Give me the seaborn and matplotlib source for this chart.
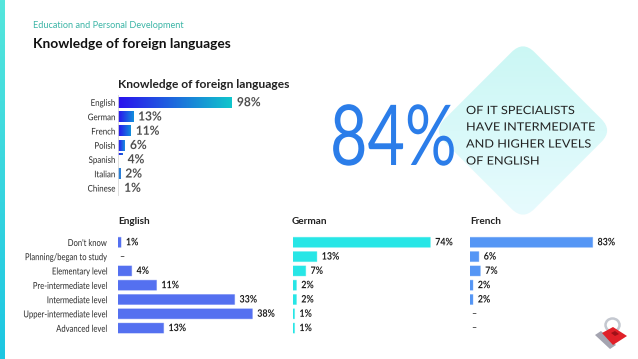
import numpy as np
import pandas as pd
import matplotlib
matplotlib.use("Agg")
import matplotlib.pyplot as plt
import seaborn as sns
from matplotlib.patches import FancyBboxPatch, Polygon, Ellipse
from matplotlib.patheffects import AbstractPathEffect
from matplotlib.transforms import Affine2D
from matplotlib.colors import LinearSegmentedColormap

languages = ["English", "German", "French", "Polish", "Spanish", "Italian", "Chinese"]
language_values = [98, 13, 11, 6, 4, 2, 1]
levels = ["Don't know", "Planning/began to study", "Elementary level", "Pre-intermediate level",
          "Intermediate level", "Upper-intermediate level", "Advanced level"]
english_values = [1, np.nan, 4, 11, 33, 38, 13]
german_values = [74, 13, 7, 2, 2, 1, 1]
french_values = [83, 6, 7, 2, 2, np.nan, np.nan]

W, H = 638, 359
sns.set_theme(style="white")
LATO = ["Lato", "DejaVu Sans"]
DARK = "#2a2a2a"
fig = plt.figure(figsize=(W/100, H/100), dpi=100, facecolor="white")


class Tall(AbstractPathEffect):
    """Stretches a text's glyphs vertically, to imitate a condensed typeface."""
    def __init__(self, sy, baseline=False):
        super().__init__()
        self.sy, self.baseline = sy, baseline

    def draw_path(self, renderer, gc, tpath, affine, rgbFace=None):
        e = tpath.get_extents()
        y0 = 0 if self.baseline else (e.y0 + e.y1) / 2
        t = Affine2D().translate(0, -y0).scale(1, self.sy).translate(0, y0)
        renderer.draw_path(gc, tpath, t + affine, rgbFace)


bg = fig.add_axes([0, 0, 1, 1], zorder=0)
bg.set_xlim(0, W); bg.set_ylim(H, 0); bg.axis("off")


def grad(ax, extent, c0, c1, clip=None, horizontal=False, zorder=1):
    cm = LinearSegmentedColormap.from_list("g", [c0, c1])
    g = np.linspace(0, 1, 256)
    g = g[None, :] if horizontal else g[:, None]
    xl, yl = ax.get_xlim(), ax.get_ylim()
    im = ax.imshow(g, extent=extent, cmap=cm, aspect="auto", origin="upper", zorder=zorder)
    if clip is not None:
        im.set_clip_path(clip)
    ax.set_xlim(xl); ax.set_ylim(yl)
    return im


# side band
grad(bg, (0, 5, H, 0), "#55e6dc", "#1cc6e2")

# diamond
s, r = 63.5, 16
diamond = FancyBboxPatch((-(s - r), -(s - r)), 2*(s - r), 2*(s - r),
                         boxstyle=f"round,pad={r},rounding_size={r}", linewidth=0,
                         facecolor="none",
                         transform=Affine2D().rotate_deg(45).translate(523, 130.5) + bg.transData)
bg.add_patch(diamond)
grad(bg, (430, 616, 222, 40), "#caf7f4", "#e8fbfe", clip=diamond)

# texts
bg.text(33, 25, "Education and Personal Development", color="#3bb5a6", fontsize=6.6,
        family=LATO, va="center")
bg.text(33, 44, "Knowledge of foreign languages", color="#111111", fontsize=9.9,
        family=LATO, weight="bold", va="center")
bg.text(118, 84.5, "Knowledge of foreign languages", color="#222222", fontsize=8.65,
        family=LATO, weight="bold", va="center")
bg.text(330, 165, "84%", color="#2b7de9", fontsize=46.5, family=LATO, va="baseline", ha="left",
        path_effects=[Tall(1.3, baseline=True)])
for y, line in zip([110.5, 127, 144, 161],
                   ["OF IT SPECIALISTS", "HAVE INTERMEDIATE", "AND HIGHER LEVELS", "OF ENGLISH"]):
    bg.text(466, y, line, color="#222222", fontsize=9.15, family=LATO, va="center",
            path_effects=[Tall(0.9)])
for x, t in [(118, "English"), (292, "German"), (470, "French")]:
    bg.text(x, 222, t, color="#222222", fontsize=7.2, family=LATO, weight="bold", va="center")

# logo
bg.add_patch(Ellipse((612.5, 325), 14, 13, fc="none", ec="#c4c8d0", lw=1.8, zorder=2))
bg.add_patch(Polygon([[595, 335], [601, 331], [616, 345], [610, 349]], fc="#a4a4b0", ec="none", zorder=2))
bg.add_patch(Polygon([[602, 333], [613, 327], [627, 336], [613, 345]], fc="#e02028", ec="none", zorder=3))
bg.add_patch(Polygon([[611, 333], [615, 331], [619, 334], [615, 336]], fc="#a01018", ec="none", zorder=4))


def panel(x0, xscale, yc0, step, names, values, width_px, color=None, label_pad=None,
          pad=3.5, fontsize=6.4, fs_lab=5.5, sy_lab=1.25, sy_val=1.15):
    n = len(names)
    top = yc0 - step/2
    wpx = 150
    ax = fig.add_axes([x0/W, 1 - (top + n*step)/H, wpx/W, n*step/H], zorder=2)
    ax.patch.set_alpha(0)
    df = pd.DataFrame({"name": names, "value": values})
    sns.barplot(df, y="name", x="value", ax=ax, orient="h", width=width_px/step,
                color=color or "#2a10ee", saturation=1, order=names)
    for bar in ax.patches:
        bar.set_snap(False)
        bar.set_edgecolor(matplotlib.colors.to_rgba(color or "#2a10ee", 0.35))
        bar.set_linewidth(0.7)
    ax.set_xlim(0, wpx/xscale)
    ax.set_ylim(n - 0.5, -0.5)
    ax.set_xlabel(""); ax.set_ylabel("")
    ax.set_xticks([])
    for sp in ax.spines.values():
        sp.set_visible(False)
    if label_pad is not None:
        ax.set_yticks(range(n), names, fontsize=fs_lab, color=DARK, family=LATO)
        ax.tick_params(axis="y", length=0, pad=label_pad)
        for lab in ax.get_yticklabels():
            lab.set_path_effects([Tall(sy_lab)])
    else:
        ax.set_yticks([])
    for i, v in enumerate(values):
        if np.isnan(v):
            ax.annotate("–", (0, i), xytext=(1.0, 0), textcoords="offset points", va="center",
                        fontsize=fontsize, color=DARK, family=LATO)
        else:
            ax.annotate(f"{v:g}%", (v, i), xytext=(pad, 0), textcoords="offset points", va="center",
                        fontsize=fontsize, color="#1c1c1c", family=LATO, weight="bold",
                        path_effects=[Tall(sy_val)])
    return ax


# overview
ax0 = panel(118, 1.163, 102.5, 14.27, languages, language_values, 10.5, label_pad=2,
            pad=3.6, fontsize=8.6, fs_lab=5.7, sy_lab=1.15, sy_val=1.05)
for t in ax0.texts:
    t.set_color("#505050")
ax0.spines["left"].set_visible(True)
ax0.spines["left"].set_color("#d8d8d8"); ax0.spines["left"].set_linewidth(0.6)
ends = ["#10c6cc", "#128fdc", "#128fdc", "#1a8fe0", "#1a6fd8", "#2a7fd8", "#e8f0fb"]
for bar, e, name in zip(ax0.patches, ends, languages):
    if name == "Spanish":
        bar.set_height(0.08)
    x, y, w, h = bar.get_x(), bar.get_y(), bar.get_width(), bar.get_height()
    bar.set_facecolor("none")
    bar.set_edgecolor("none")
    if name != "Chinese":
        grad(ax0, (x, x + w, y + h, y), "#2a10ee" if name != "Italian" else "#2a7fd8", e, horizontal=True)

# detail panels
panel(117.5, 3.55, 242.3, 14.3, levels, english_values, 10, color="#5470f0", label_pad=7.5)
panel(292.7, 1.86, 242.3, 14.3, levels, german_values, 10, color="#27e6e6")
panel(470, 1.478, 242.3, 14.3, levels, french_values, 10, color="#5596f5")

fig.savefig("out.png", dpi=100)
